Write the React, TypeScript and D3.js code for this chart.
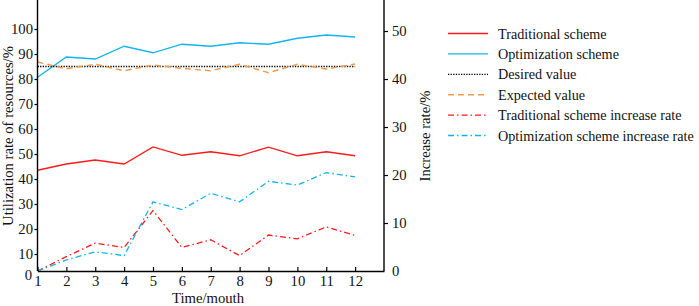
import React, { useEffect, useRef } from "react";
import * as d3 from "d3";

const months = [1, 2, 3, 4, 5, 6, 7, 8, 9, 10, 11, 12];
const traditional = [43.5, 46, 47.6, 46, 52.8, 49.5, 50.9, 49.3, 52.7, 49.3, 50.9, 49.3];
const optimization = [80.7, 88.8, 88, 93.1, 90.5, 93.9, 93.1, 94.5, 93.9, 96.3, 97.6, 96.8];
const desired = [85, 85, 85, 85, 85, 85, 85, 85, 85, 85, 85, 85];
const expected = [86.8, 84.1, 85.9, 83.3, 85.6, 84.3, 83.3, 85.9, 82.5, 85.9, 84, 86];
const tradIncrease = [0, 3.0, 5.8, 4.9, 12.6, 4.9, 6.5, 3.2, 7.5, 6.7, 9.2, 7.4];
const optIncrease = [0, 2.3, 4.0, 3.2, 14.4, 12.8, 16.2, 14.4, 18.7, 17.9, 20.5, 19.6];
const leftTicks = [10, 20, 30, 40, 50, 60, 70, 80, 90, 100];
const rightTicks = [0, 10, 20, 30, 40, 50];
const legendLabels = [
  "Traditional scheme",
  "Optimization scheme",
  "Desired value",
  "Expected value",
  "Traditional scheme increase rate",
  "Optimization scheme increase rate",
];

const W = 699;
const H = 306;
const FONT = "'Liberation Serif', 'Times New Roman', serif";
const FS = "14.7px";
const FS_LEG = "14.2px";
const RED = "#ff1a1a";
const BLUE = "#12b4f0";
const ORANGE = "#f39a4a";

const x = d3.scaleLinear().domain([1, 13]).range([37.5, 384]);
const yL = d3.scaleLinear().domain([3.2, 111.6]).range([271, 0]);
const yR = d3.scaleLinear().domain([0, 56.46]).range([271, 0]);

const series = [
  { data: traditional, axis: "L", color: RED, dash: null, width: 1.3 },
  { data: optimization, axis: "L", color: BLUE, dash: null, width: 1.3 },
  { data: desired, axis: "L", color: "#000", dash: "1.3 1.3", width: 1.3 },
  { data: expected, axis: "L", color: ORANGE, dash: "6 4", width: 1.5 },
  { data: tradIncrease, axis: "R", color: RED, dash: "6 3 1.5 3", width: 1.3 },
  { data: optIncrease, axis: "R", color: BLUE, dash: "6 3 1.5 3", width: 1.3 },
];

export default function App() {
  const ref = useRef<SVGSVGElement>(null);
  useEffect(() => {
    const svg = d3.select(ref.current);
    svg.selectAll("*").remove();

    series.forEach((s) => {
      const yScale = s.axis === "L" ? yL : yR;
      const line = d3
        .line<number>()
        .x((_, i) => x(months[i]))
        .y((d) => yScale(d));
      svg
        .append("path")
        .datum(s.data)
        .attr("d", line)
        .attr("fill", "none")
        .attr("stroke", s.color)
        .attr("stroke-width", s.width)
        .attr("stroke-dasharray", s.dash ?? null);
    });

    const gx = svg
      .append("g")
      .attr("transform", "translate(0,271)")
      .call(
        d3
          .axisBottom(x)
          .tickValues(months)
          .tickFormat(d3.format("d"))
          .tickSizeInner(-4)
          .tickSizeOuter(0)
          .tickPadding(5)
      );
    const gl = svg
      .append("g")
      .attr("transform", "translate(37.5,0)")
      .call(d3.axisLeft(yL).tickValues(leftTicks).tickSizeInner(3).tickSizeOuter(0).tickPadding(1.5));
    const gr = svg
      .append("g")
      .attr("transform", "translate(384,0)")
      .call(d3.axisRight(yR).tickValues(rightTicks).tickSizeInner(4).tickSizeOuter(0).tickPadding(4));

    [gx, gl, gr].forEach((g) => {
      g.selectAll("path").attr("stroke", "#000").attr("stroke-width", 1.4);
      g.selectAll("line").attr("stroke", "#000").attr("stroke-width", 1.2);
      g.selectAll("text")
        .attr("fill", "#111")
        .style("font-family", FONT)
        .style("font-size", FS);
    });
    gl.select(".domain").attr("d", "M0,0V271");
    gr.select(".domain").attr("d", "M0,0V271");
    gr.selectAll(".tick").filter((d: any) => d === 0).select("line").remove();

    svg
      .append("text")
      .attr("x", 32)
      .attr("y", 280)
      .attr("text-anchor", "end")
      .style("font-family", FONT)
      .style("font-size", FS)
      .attr("fill", "#111")
      .text("0");

    svg
      .append("text")
      .attr("transform", "translate(12.5,136) rotate(-90)")
      .attr("text-anchor", "middle")
      .style("font-family", FONT)
      .style("font-size", FS)
      .attr("fill", "#111")
      .text("Utilization rate of resources/%");
    svg
      .append("text")
      .attr("transform", "translate(430,136) rotate(-90)")
      .attr("text-anchor", "middle")
      .style("font-family", FONT)
      .style("font-size", FS)
      .attr("fill", "#111")
      .text("Increase rate/%");
    svg
      .append("text")
      .attr("x", 208)
      .attr("y", 303)
      .attr("text-anchor", "middle")
      .style("font-family", FONT)
      .style("font-size", FS)
      .attr("fill", "#111")
      .text("Time/mouth");

    const lg = svg.append("g");
    series.forEach((s, i) => {
      const yy = 33.5 + i * 20.4;
      lg.append("line")
        .attr("x1", 448)
        .attr("x2", 488)
        .attr("y1", yy)
        .attr("y2", yy)
        .attr("stroke", s.color)
        .attr("stroke-width", s.width)
        .attr("stroke-dasharray", s.dash ?? null);
      lg.append("text")
        .attr("x", 498)
        .attr("y", yy + 5)
        .style("font-family", FONT)
        .style("font-size", FS_LEG)
        .attr("fill", "#111")
        .text(legendLabels[i]);
    });
  }, []);

  return (
    <svg
      ref={ref}
      width={W}
      height={H}
      style={{ position: "absolute", left: 0, top: 0, background: "#fff" }}
    />
  );
}
